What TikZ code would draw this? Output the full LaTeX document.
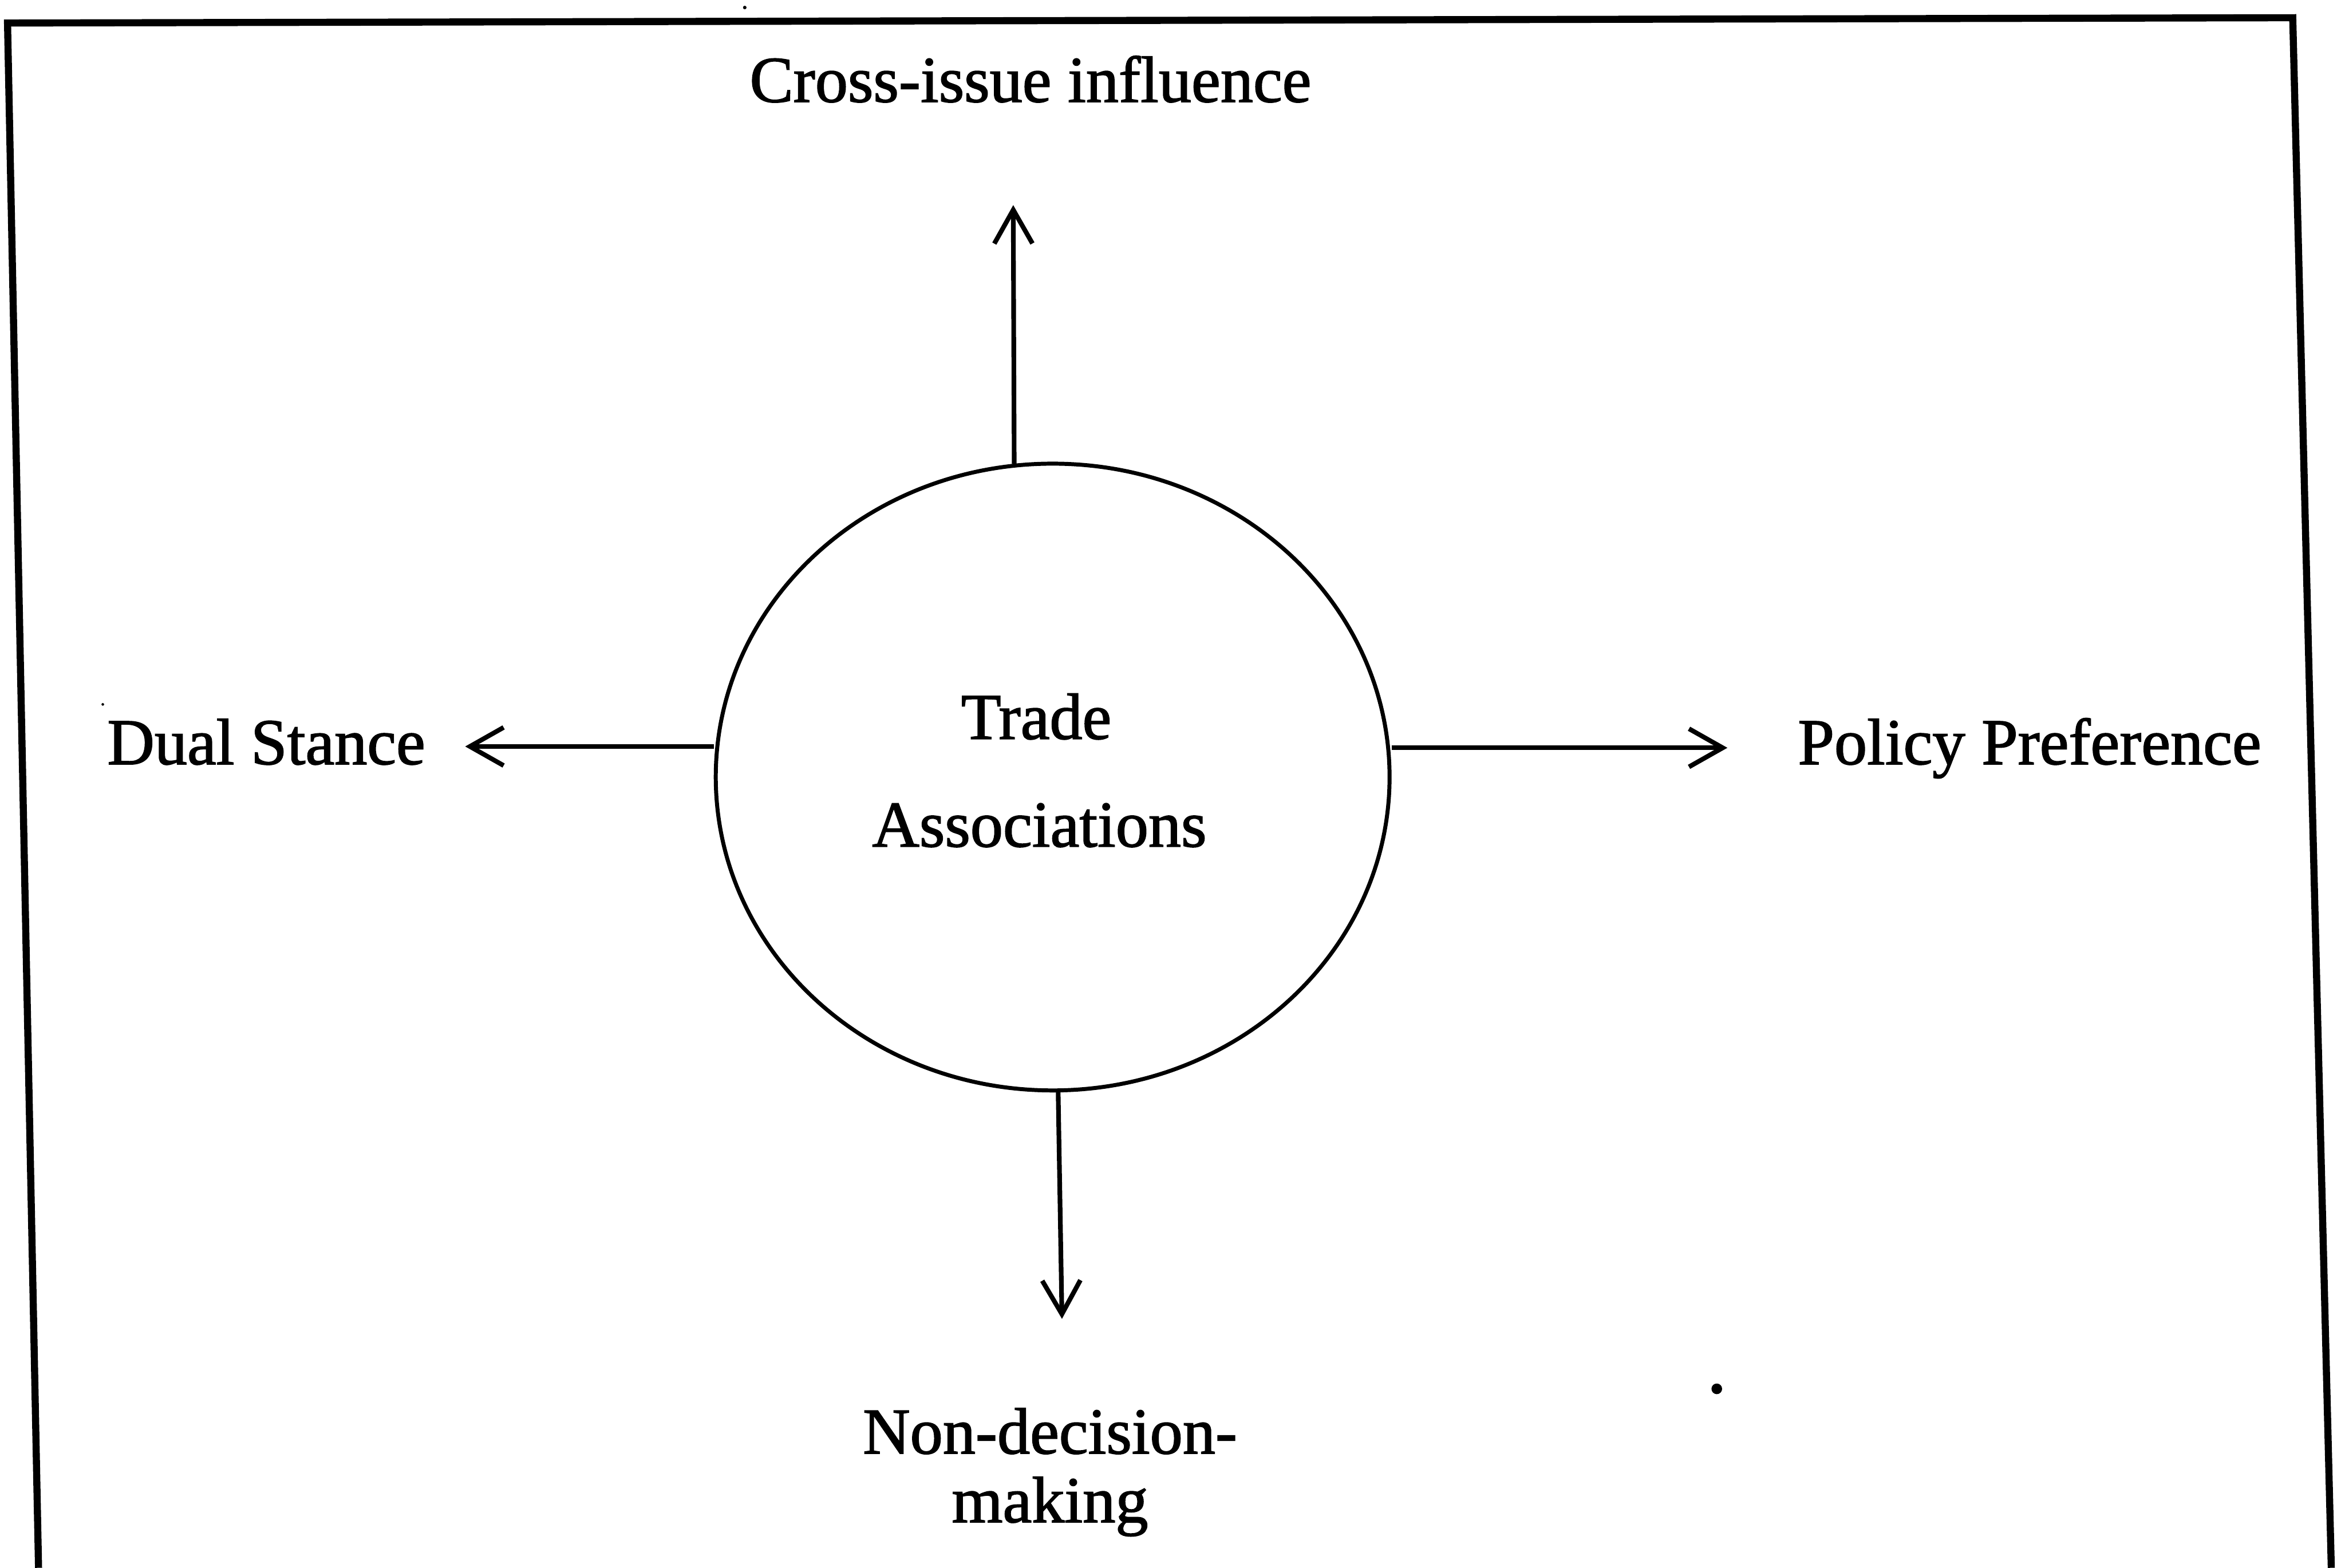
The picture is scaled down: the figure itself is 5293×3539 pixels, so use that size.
\documentclass[tikz,border=0pt]{standalone}
\usepackage{fontspec}
\setmainfont[FakeBold=1.5]{Liberation Serif}
\usetikzlibrary{arrows.meta,shapes.geometric}
\begin{document}
\begin{tikzpicture}[x=0.01cm,y=-0.01cm,
  frame/.style={line width=0.16cm, line join=miter},
  link/.style={line width=0.105cm, -{Straight Barb[length=0.76cm,width=0.86cm]}},
  lbl/.style={font=\fontsize{42}{45}\selectfont, anchor=base, inner sep=0pt},
  hub/.style={draw, ellipse, line width=0.09cm, minimum width=15.2cm, minimum height=14.14cm, inner sep=0pt}]
\useasboundingbox (0,0) rectangle (5293,3539);

% open frame around the figure
\draw[frame] (87,3539) -- (17,52) -- (5175,40) -- (5262,3539);

% central circle
\node[hub] (hub) at (2376,1754) {};
\node[lbl] (trade) at (2339,1668) {Trade};
\node[lbl] (assoc) at (2346,1911) {Associations};

% outer labels
\node[lbl] (cross) at (2326,230) {Cross-issue influence};
\node[lbl] (dual) at (601,1725) {Dual Stance};
\node[lbl] (policy) at (4581,1725) {Policy Preference};
\node[lbl] (nond) at (2370,3281) {Non-decision-};
\node[lbl] (making) at (2370,3436) {making};

% arrow tips
\coordinate (upTip) at (2287,463);
\coordinate (leftTip) at (1050,1685);
\coordinate (rightTip) at (3899,1688);
\coordinate (downTip) at (2397,2977);

\draw[link] (hub.97.1) -- (upTip);
\draw[link] (leftTip -| hub.west) -- (leftTip);
\draw[link] (rightTip -| hub.east) -- (rightTip);
\draw[link] (hub.271.1) -- (downTip);

% specks
\fill (3875,3135) circle [radius=0.12cm];
\fill (1681,17) circle [radius=0.04cm];
\fill (232,1590) circle [radius=0.03cm];
\end{tikzpicture}
\end{document}
